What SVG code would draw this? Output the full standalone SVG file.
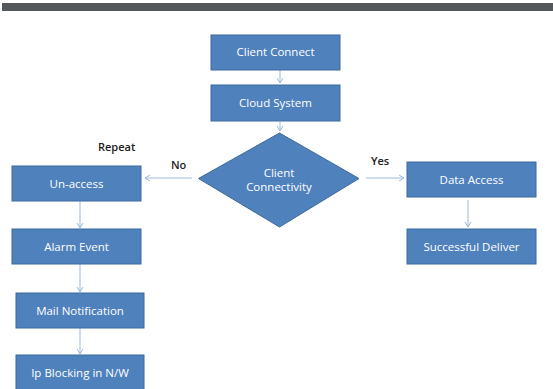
<svg xmlns="http://www.w3.org/2000/svg" width="553" height="389" viewBox="0 0 553 389">
<style>
.box{fill:#4f81bd;stroke:#3d6a9e;stroke-width:1}
.t{font-family:"Open Sans","Liberation Sans",sans-serif;font-size:11.5px;fill:#ffffff;text-anchor:middle}
.lbl{font-family:"Open Sans","Liberation Sans",sans-serif;font-size:11px;fill:#222222;font-weight:600}
.c{stroke:#9db9dd;stroke-width:1;fill:none;marker-end:url(#ah)}
</style>
<defs>
<marker id="ah" markerWidth="8" markerHeight="8" refX="6" refY="4" orient="auto" markerUnits="userSpaceOnUse">
<path d="M1,1 L6,4 L1,7" fill="none" stroke="#9db9dd" stroke-width="1"/>
</marker>
</defs>
<rect x="2" y="3" width="551" height="8" fill="#54585b"/>
<g id="connectors">
<line class="c" x1="280" y1="70" x2="280" y2="83"/>
<line class="c" x1="280" y1="122" x2="280" y2="131"/>
<line class="c" x1="192" y1="178" x2="145" y2="178"/>
<line class="c" x1="366" y1="178" x2="404" y2="178"/>
<line class="c" x1="80" y1="201" x2="80" y2="228"/>
<line class="c" x1="80" y1="264" x2="80" y2="292"/>
<line class="c" x1="80" y1="328" x2="80" y2="354"/>
<line class="c" x1="468" y1="200" x2="468" y2="227"/>
</g>
<g id="client-connect"><rect class="box" x="211" y="35" width="129" height="35"/><text class="t" x="275.5" y="56">Client Connect</text></g>
<g id="cloud-system"><rect class="box" x="211" y="85" width="129" height="36"/><text class="t" x="275.5" y="107">Cloud System</text></g>
<g id="client-connectivity"><polygon class="box" points="279.5,133 359,178.5 279.5,227 198.5,178.5"/><text class="t" x="279" y="177">Client</text><text class="t" x="279" y="191">Connectivity</text></g>
<g id="un-access"><rect class="box" x="12" y="166" width="129" height="35"/><text class="t" x="76.5" y="188">Un-access</text></g>
<g id="alarm-event"><rect class="box" x="12" y="229" width="129" height="35"/><text class="t" x="76.5" y="251">Alarm Event</text></g>
<g id="mail-notification"><rect class="box" x="16" y="293" width="128" height="35"/><text class="t" x="80" y="315">Mail Notification</text></g>
<g id="ip-blocking"><rect class="box" x="16" y="355" width="128" height="38"/><text class="t" x="80" y="377">Ip Blocking in N/W</text></g>
<g id="data-access"><rect class="box" x="407" y="162" width="129" height="35"/><text class="t" x="471.5" y="184">Data Access</text></g>
<g id="successful-deliver"><rect class="box" x="407" y="229" width="129" height="35"/><text class="t" x="471.5" y="251">Successful Deliver</text></g>
<text class="lbl" x="98" y="151">Repeat</text>
<text class="lbl" x="171" y="169">No</text>
<text class="lbl" x="371" y="165">Yes</text>
</svg>
